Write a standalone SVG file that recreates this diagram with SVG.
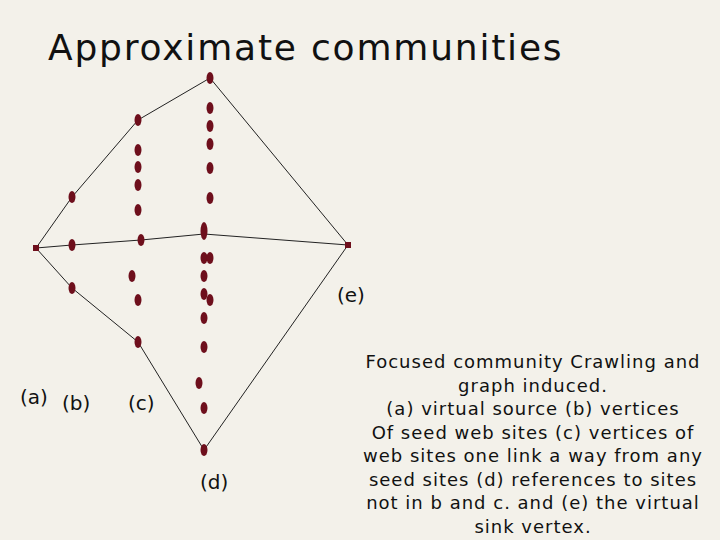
<svg xmlns="http://www.w3.org/2000/svg" width="720" height="540" viewBox="0 0 720 540">
<style>
.d{fill:#6e0f1c}
.l{fill:none;stroke:#222;stroke-width:1}
text{font-family:"DejaVu Sans","Liberation Sans",sans-serif;fill:#111}
.s{font-size:18px;letter-spacing:1px}
.lb{font-size:20px}
</style>
<rect width="720" height="540" fill="#f3f1ea"/>
<text x="48" y="60" font-size="36" letter-spacing="1.8">Approximate communities</text>
<g id="connectors">
<polyline class="l" points="36,248 72,197 138,120 210,78 348,245"/>
<polyline class="l" points="36,248 72,245 141,240 204,234 348,245"/>
<polyline class="l" points="36,248 72,288 138,342 204,450 348,245"/>
</g>
<g id="a"><rect x="33" y="245" width="6" height="6" class="d"/></g>
<g id="e"><rect x="345" y="242" width="6" height="6" class="d"/></g>
<g id="b">
<ellipse class="d" cx="72" cy="197" rx="3.5" ry="6"/>
<ellipse class="d" cx="72" cy="245" rx="3.5" ry="6"/>
<ellipse class="d" cx="72" cy="288" rx="3.5" ry="6"/>
</g>
<g id="c">
<ellipse class="d" cx="138" cy="120" rx="3.5" ry="6"/>
<ellipse class="d" cx="138" cy="150" rx="3.5" ry="6"/>
<ellipse class="d" cx="138" cy="167" rx="3.5" ry="6"/>
<ellipse class="d" cx="138" cy="185" rx="3.5" ry="6"/>
<ellipse class="d" cx="138" cy="210" rx="3.5" ry="6"/>
<ellipse class="d" cx="141" cy="240" rx="3.5" ry="6"/>
<ellipse class="d" cx="132" cy="276" rx="3.5" ry="6"/>
<ellipse class="d" cx="138" cy="300" rx="3.5" ry="6"/>
<ellipse class="d" cx="138" cy="342" rx="3.5" ry="6"/>
</g>
<g id="d">
<ellipse class="d" cx="210" cy="78" rx="3.5" ry="6"/>
<ellipse class="d" cx="210" cy="108" rx="3.5" ry="6"/>
<ellipse class="d" cx="210" cy="126" rx="3.5" ry="6"/>
<ellipse class="d" cx="210" cy="144" rx="3.5" ry="6"/>
<ellipse class="d" cx="210" cy="168" rx="3.5" ry="6"/>
<ellipse class="d" cx="210" cy="198" rx="3.5" ry="6"/>
<ellipse class="d" cx="204" cy="231" rx="3.5" ry="9"/>
<ellipse class="d" cx="204" cy="258" rx="3.5" ry="6"/>
<ellipse class="d" cx="210" cy="258" rx="3.5" ry="6"/>
<ellipse class="d" cx="204" cy="276" rx="3.5" ry="6"/>
<ellipse class="d" cx="204" cy="294" rx="3.5" ry="6"/>
<ellipse class="d" cx="210" cy="300" rx="3.5" ry="6"/>
<ellipse class="d" cx="204" cy="318" rx="3.5" ry="6"/>
<ellipse class="d" cx="204" cy="347" rx="3.5" ry="6"/>
<ellipse class="d" cx="199" cy="383" rx="3.5" ry="6"/>
<ellipse class="d" cx="204" cy="408" rx="3.5" ry="6"/>
<ellipse class="d" cx="204" cy="450" rx="3.5" ry="6"/>
</g>
<g class="lb">
<text x="20" y="404">(a)</text>
<text x="62" y="410">(b)</text>
<text x="128" y="410">(c)</text>
<text x="200" y="489">(d)</text>
<text x="337" y="302">(e)</text>
</g>
<g class="s" text-anchor="middle">
<text x="533" y="368">Focused community  Crawling and</text>
<text x="533" y="391.5">graph induced.</text>
<text x="533" y="415">(a) virtual source (b) vertices</text>
<text x="533" y="438.5">Of seed web sites (c) vertices of</text>
<text x="533" y="462">web sites one link a way from any</text>
<text x="533" y="485.5">seed sites (d) references to sites</text>
<text x="533" y="509">not in b and c. and (e) the virtual</text>
<text x="533" y="532.5">sink vertex.</text>
</g>
</svg>
